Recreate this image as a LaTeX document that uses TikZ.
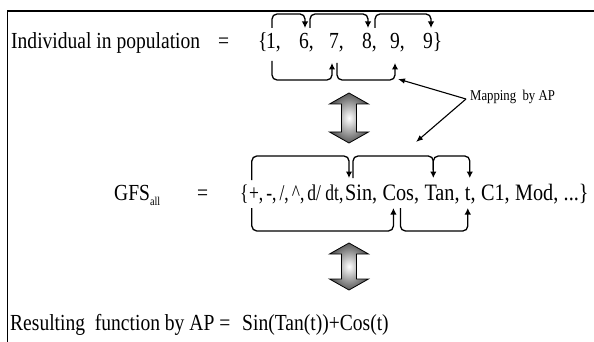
\documentclass[tikz,border=0pt]{standalone}
\usepackage{fontspec}
\setmainfont{Liberation Serif}
\newfontfamily\condA[FakeStretch=0.85]{Liberation Serif}
\newfontfamily\condB[FakeStretch=0.86]{Liberation Serif}
\newfontfamily\condC[FakeStretch=0.78]{Liberation Serif}
\usetikzlibrary{arrows.meta}
\begin{document}
\begin{tikzpicture}[x=1pt,y=-1pt,
  txt/.style={inner sep=0pt, anchor=base west, font=\condA\fontsize{23}{26}\selectfont},
  gsym/.style={inner sep=0pt, anchor=base west, font=\condC\fontsize{22.5}{26}\selectfont},
  gwrd/.style={inner sep=0pt, anchor=base west, font=\condB\fontsize{23.5}{26}\selectfont},
  small/.style={inner sep=0pt, anchor=west, font=\condA\fontsize{15}{17}\selectfont},
  brk/.style={line width=1.3pt, rounded corners=5pt, -{Latex[length=6.5pt,width=6.5pt]}},
  maparr/.style={line width=1.1pt, -{Latex[length=7pt,width=5.5pt]}},
  dbl/.style={draw=black, line width=0.8pt, inner color=white, outer color=black!65},
  frame/.style={line width=1.4pt}]
\useasboundingbox (0,0) rectangle (594,342);
% frame
\draw[frame] (594,11) -- (7.5,11) -- (7.5,342);
% line 1
\node[txt] (ind) at (11,49) {Individual in population};
\node[txt] (eq1) at (218,49) {=};
\node[txt] (lb1) at (258,49) {\{};
\node[txt] (n1) at (266,49) {1,};
\node[txt] (n2) at (299,49) {6,};
\node[txt] (n3) at (329,49) {7,};
\node[txt] (n4) at (362,49) {8,};
\node[txt] (n5) at (390,49) {9,};
\node[txt] (n6) at (423,49) {9\}};
% top brackets line 1
\draw[brk] ([shift={(6,-21)}]n1.base west) -- ([shift={(6,-35)}]n1.base west) -| ([shift={(6,-21)}]n2.base west);
\draw[brk] ([shift={(11,-21)}]n2.base west) -- ([shift={(11,-35)}]n2.base west) -| ([shift={(6,-21)}]n4.base west);
\draw[brk] ([shift={(13,-21)}]n4.base west) -- ([shift={(13,-35)}]n4.base west) -| ([shift={(8,-21)}]n6.base west);
% bottom brackets line 1
\draw[brk] ([shift={(6,12)}]n1.base west) -- ([shift={(6,31)}]n1.base west) -| ([shift={(3,14)}]n3.base west);
\draw[brk] ([shift={(8,14)}]n3.base west) -- ([shift={(8,31)}]n3.base west) -| ([shift={(5,14)}]n5.base west);
% mapping label
\node[small] (map) at (470,97) {Mapping\ \ by AP};
\coordinate (ma1) at (398,79);
\coordinate (ma2) at (416,142);
\draw[maparr] ([xshift=-4pt,yshift=-2pt]map.west) -- (ma1);
\draw[maparr] ([xshift=-4pt,yshift=-2pt]map.west) -- (ma2);
% double arrow 1
\path[dbl] (349,93) -- (368.5,104) -- (356.5,104) -- (356.5,132) -- (368.5,132) -- (349,143)
  -- (329.5,132) -- (341.5,132) -- (341.5,104) -- (329.5,104) -- cycle;
% GFS line
\node[txt] (gfs) at (114,200) {GFS\raisebox{-5pt}{\fontsize{12}{13}\selectfont all}};
\node[txt] (eq2) at (197,200) {=};
\node[gsym] (g0) at (240,200) {\{};
\node[gsym] (g1) at (g0.base east) {+,};
\node[gsym] (g2) at ([xshift=2.6pt]g1.base east) {-,};
\node[gsym] (g3) at ([xshift=2.6pt]g2.base east) {/,};
\node[gsym] (g4) at ([xshift=2.6pt]g3.base east) {\^{},};
\node[gsym] (g5) at ([xshift=2.6pt]g4.base east) {d/ dt,};
\node[gwrd] (g6) at (345,200) {Sin,};
\node[gwrd] (g7) at ([xshift=5pt]g6.base east) {Cos,};
\node[gwrd] (g8) at ([xshift=5pt]g7.base east) {Tan,};
\node[gwrd] (g9) at ([xshift=5pt]g8.base east) {t,};
\node[gwrd] (g10) at ([xshift=5pt]g9.base east) {C1,};
\node[gwrd] (g11) at ([xshift=5pt]g10.base east) {Mod,};
\node[gwrd] (g12) at ([xshift=5pt]g11.base east) {...\}};
% top brackets GFS
\draw[brk] ([shift={(3,-20)}]g1.base west) -- ([shift={(3,-44)}]g1.base west) -| ([shift={(4,-22)}]g6.base west);
\draw[brk] ([shift={(8,-22)}]g6.base west) -- ([shift={(8,-44)}]g6.base west) -| ([shift={(9,-22)}]g8.base west);
\draw[brk] ([shift={(9,-30)}]g8.base west) -- ([shift={(9,-44)}]g8.base west) -| ([shift={(5,-22)}]g9.base west);
% bottom brackets GFS
\draw[brk] ([shift={(3,8)}]g1.base west) -- ([shift={(3,31)}]g1.base west) -| ([shift={(11,8)}]g7.base west);
\draw[brk] ([shift={(18,8)}]g7.base west) -- ([shift={(18,31)}]g7.base west) -| ([shift={(3,8)}]g9.base west);
% double arrow 2
\path[dbl] (349,243) -- (368.5,254) -- (356.5,254) -- (356.5,279) -- (368.5,279) -- (349,290)
  -- (329.5,279) -- (341.5,279) -- (341.5,254) -- (329.5,254) -- cycle;
% line 3
\node[txt] (res) at (10,330) {Resulting\ \ function by AP =};
\node[txt] (fn) at (242,330) {Sin(Tan(t))+Cos(t)};
\end{tikzpicture}
\end{document}
